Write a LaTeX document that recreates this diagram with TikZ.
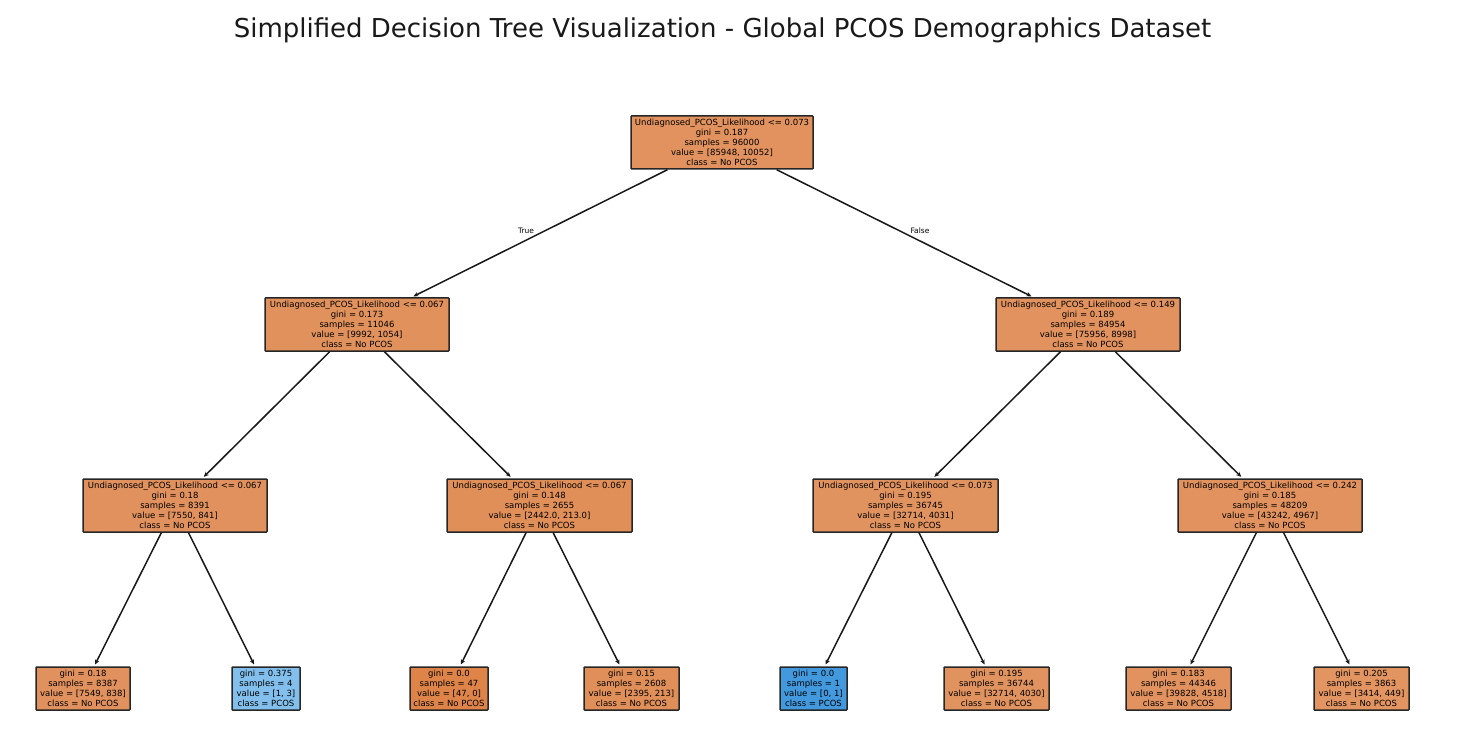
\documentclass[tikz,border=0pt]{standalone}
\usepackage{fontspec}
\setmainfont{DejaVu Sans}
\usetikzlibrary{arrows.meta}
\definecolor{oRoot}{RGB}{225,146,94}
\definecolor{oA}{RGB}{225,145,92}
\definecolor{oB}{RGB}{225,146,94}
\definecolor{oC}{RGB}{225,145,93}
\definecolor{oD}{RGB}{224,143,88}
\definecolor{oE}{RGB}{225,147,95}
\definecolor{oF}{RGB}{225,146,94}
\definecolor{oL1}{RGB}{225,145,93}
\definecolor{bL2}{RGB}{130,191,236}
\definecolor{oL3}{RGB}{222,132,72}
\definecolor{oL4}{RGB}{224,143,89}
\definecolor{bL5}{RGB}{66,153,222}
\definecolor{oL6}{RGB}{225,147,95}
\definecolor{oL7}{RGB}{225,146,94}
\definecolor{oL8}{RGB}{226,148,97}
\tikzset{
  tnode/.style={draw=black!85, line width=1.5pt, rounded corners=0.6pt, inner sep=0pt,
    align=center, font=\fontsize{8.5}{10}\selectfont, minimum height=53pt, minimum width=184pt},
  leaf/.style={tnode, minimum height=43pt},
  edge/.style={line width=1.5pt, black!90, -{Stealth[length=5pt,width=4.5pt]}, shorten >=2pt},
  elab/.style={font=\fontsize{7.5}{8}\selectfont, inner sep=0pt}
}
\begin{document}
\begin{tikzpicture}[x=1pt,y=-1pt]
\useasboundingbox (0,0) rectangle (1460,754);
\node[font=\fontsize{26}{30}\selectfont, inner sep=0pt, text=black!90] (title) at (722.5,30) {Simplified Decision Tree Visualization - Global PCOS Demographics Dataset};

\node[tnode, fill=oRoot, minimum width=182pt] (root) at (722,142.5) {Undiagnosed\_PCOS\_Likelihood <= 0.073\\gini = 0.187\\samples = 96000\\value = [85948, 10052]\\class = No PCOS};

\node[tnode, fill=oA] (n1) at (357,324.5) {Undiagnosed\_PCOS\_Likelihood <= 0.067\\gini = 0.173\\samples = 11046\\value = [9992, 1054]\\class = No PCOS};
\node[tnode, fill=oB] (n2) at (1088,324.5) {Undiagnosed\_PCOS\_Likelihood <= 0.149\\gini = 0.189\\samples = 84954\\value = [75956, 8998]\\class = No PCOS};

\node[tnode, fill=oC] (n3) at (175,505.5) {Undiagnosed\_PCOS\_Likelihood <= 0.067\\gini = 0.18\\samples = 8391\\value = [7550, 841]\\class = No PCOS};
\node[tnode, fill=oD, minimum width=185pt] (n4) at (539.5,505.5) {Undiagnosed\_PCOS\_Likelihood <= 0.067\\gini = 0.148\\samples = 2655\\value = [2442.0, 213.0]\\class = No PCOS};
\node[tnode, fill=oE, minimum width=185pt] (n5) at (905.5,505.5) {Undiagnosed\_PCOS\_Likelihood <= 0.073\\gini = 0.195\\samples = 36745\\value = [32714, 4031]\\class = No PCOS};
\node[tnode, fill=oF] (n6) at (1270,505.5) {Undiagnosed\_PCOS\_Likelihood <= 0.242\\gini = 0.185\\samples = 48209\\value = [43242, 4967]\\class = No PCOS};

\node[leaf, fill=oL1, minimum width=94pt] (l1) at (83,688.5) {gini = 0.18\\samples = 8387\\value = [7549, 838]\\class = No PCOS};
\node[leaf, fill=bL2, minimum width=68pt] (l2) at (266,688.5) {gini = 0.375\\samples = 4\\value = [1, 3]\\class = PCOS};
\node[leaf, fill=oL3, minimum width=78pt] (l3) at (449,688.5) {gini = 0.0\\samples = 47\\value = [47, 0]\\class = No PCOS};
\node[leaf, fill=oL4, minimum width=95pt] (l4) at (631.5,688.5) {gini = 0.15\\samples = 2608\\value = [2395, 213]\\class = No PCOS};
\node[leaf, fill=bL5, minimum width=67pt] (l5) at (813.5,688.5) {gini = 0.0\\samples = 1\\value = [0, 1]\\class = PCOS};
\node[leaf, fill=oL6, minimum width=105pt] (l6) at (996.5,688.5) {gini = 0.195\\samples = 36744\\value = [32714, 4030]\\class = No PCOS};
\node[leaf, fill=oL7, minimum width=105pt] (l7) at (1178.5,688.5) {gini = 0.183\\samples = 44346\\value = [39828, 4518]\\class = No PCOS};
\node[leaf, fill=oL8, minimum width=95pt] (l8) at (1361.5,688.5) {gini = 0.205\\samples = 3863\\value = [3414, 449]\\class = No PCOS};

\draw[edge] (root) -- (n1);
\draw[edge] (root) -- (n2);
\draw[edge] (n1) -- (n3);
\draw[edge] (n1) -- (n4);
\draw[edge] (n2) -- (n5);
\draw[edge] (n2) -- (n6);
\draw[edge] (n3) -- (l1);
\draw[edge] (n3) -- (l2);
\draw[edge] (n4) -- (l3);
\draw[edge] (n4) -- (l4);
\draw[edge] (n5) -- (l5);
\draw[edge] (n5) -- (l6);
\draw[edge] (n6) -- (l7);
\draw[edge] (n6) -- (l8);

\node[elab] (tl) at (526,231) {True};
\node[elab] (fl) at (920,231) {False};
\end{tikzpicture}
\end{document}
